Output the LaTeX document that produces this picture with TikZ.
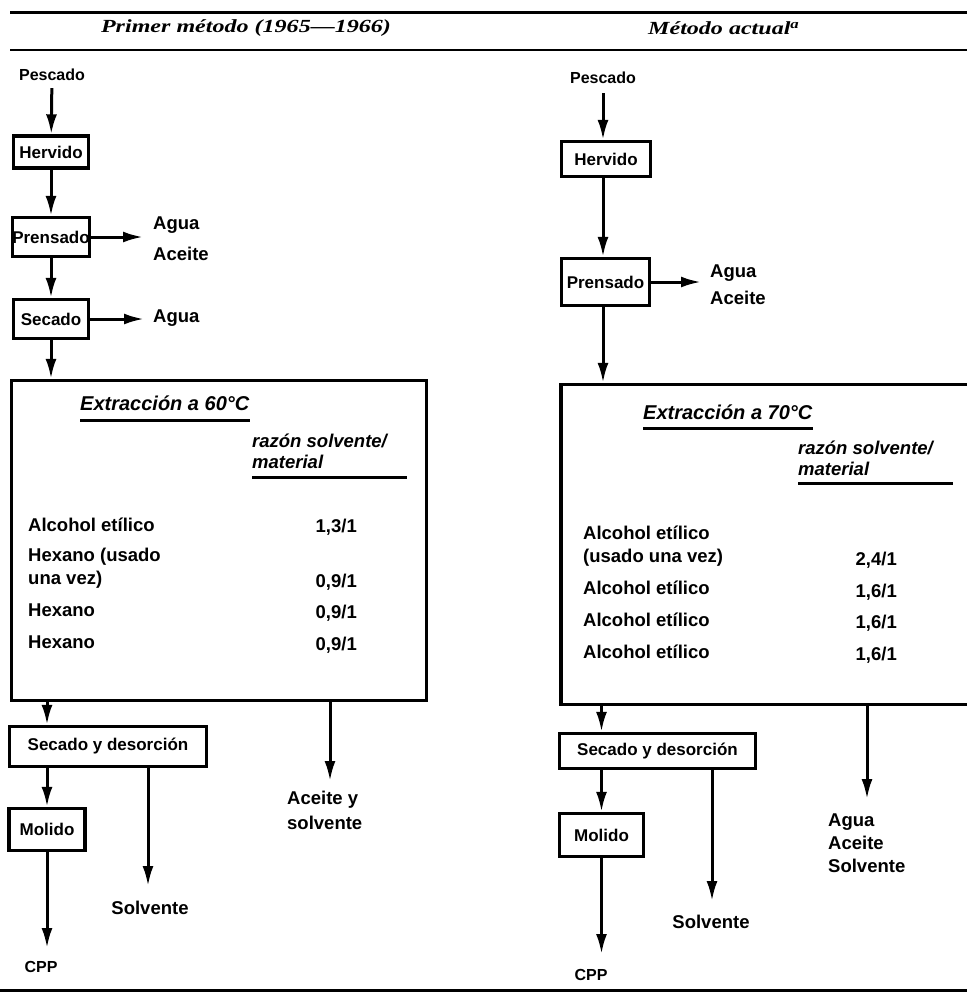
\documentclass[tikz,border=0pt]{standalone}
\usepackage{fontspec}
\setmainfont{Liberation Sans}
\newfontfamily\ttlfont[FakeStretch=1.3]{Liberation Serif}
\usetikzlibrary{arrows.meta}
\newcommand\boxsize{\fontsize{17}{21}\selectfont\bfseries}
\newcommand\lblsize{\fontsize{18.5}{23}\selectfont\bfseries}
\newcommand\smlsize{\fontsize{16}{20}\selectfont\bfseries}
\newcommand\subsize{\fontsize{20}{24}\selectfont\bfseries\itshape}
\newcommand\ratsize{\fontsize{18.5}{21}\selectfont\bfseries\itshape}

\begin{document}
\begin{tikzpicture}[x=1pt,y=-1pt,
  box/.style={draw, line width=3.4pt, inner sep=1pt, font=\boxsize},
  txt/.style={inner sep=0pt, font=\lblsize, align=left},
  flow/.style={line width=3pt, -{Latex[length=20pt,width=11pt]}},
  uline/.style={line width=3pt},
  ttl/.style={inner sep=0pt, font=\fontsize{18.5}{22}\selectfont\ttlfont\bfseries\itshape}]
\useasboundingbox (0,0) rectangle (967,997);
\clip (0,0) rectangle (967,997);
% table rules and heads
\draw[line width=3pt] (10,12) -- (967,12);
\draw[line width=2pt] (10,50) -- (967,50);
\draw[line width=3pt] (0,990) -- (967,990);
\node[ttl] (ttlA) at (246,28) {Primer método (1965—1966)};
\node[ttl, anchor=west] (ttlB) at (648,28) {Método actual\textsuperscript{a}};
% first method
\node[txt, font=\smlsize] (pesA) at (52,75) {Pescado};
\node[box, minimum width=75, minimum height=32] (herA) at (51,152) {Hervido};
\node[box, minimum width=75, minimum height=39, inner xsep=0pt] (preA) at (51,237) {Prensado};
\node[box, minimum width=75, minimum height=39] (secA) at (51,319) {Secado};
\node[txt, anchor=west] (outA1) at (153,238.5) {Agua\\[8pt]Aceite};
\node[txt, anchor=west] (outA2) at (153,318) {Agua};
\coordinate (tipA1) at (143,237);
\coordinate (tipA2) at (144,319);
\draw[flow, shorten <=7pt] (pesA) -- (herA);
\draw[flow] (herA) -- (preA);
\draw[flow] (preA) -- (secA);
\draw[flow] (preA) -- (tipA1);
\draw[flow] (secA) -- (tipA2);
\node[box, minimum width=415, minimum height=320] (extA) at (219,540.5) {};
\draw[flow] (secA) -- (secA |- extA.north);
\node[txt, anchor=west, font=\subsize] (subA) at (80,403) {Extracción a 60°C};
\draw[uline] ([yshift=-10pt]subA.south west) -- ([yshift=-10pt]subA.south east);
\node[txt, anchor=west, font=\ratsize] (ratA) at (252,451) {razón solvente/\\material};
\draw[uline] ([yshift=-9pt]ratA.south west) -- ++(155,0);
\node[txt, anchor=west] (rowA1) at (28,525) {Alcohol etílico};
\node[txt, anchor=west] (rowA2) at (28,568.5) {Hexano (usado\\una vez)};
\node[txt, anchor=west] (rowA3) at (28,610) {Hexano};
\node[txt, anchor=west] (rowA4) at (28,642) {Hexano};
\node[txt, anchor=east] (valA1) at (357,527) {1,3/1};
\node[txt, anchor=east] (valA2) at (357,582) {0,9/1};
\node[txt, anchor=east] (valA3) at (357,613) {0,9/1};
\node[txt, anchor=east] (valA4) at (357,645) {0,9/1};
\node[box, minimum width=197, minimum height=40] (sdA) at (108,746.5) {Secado y desorción};
\node[box, minimum width=76, minimum height=42] (molA) at (47,829.5) {Molido};
\node[txt, font=\smlsize] (cppA) at (41,967) {CPP};
\node[txt] (solA) at (150,908) {Solvente};
\node[txt, anchor=west] (oilA) at (287,810.5) {Aceite y\\[2pt]solvente};
\coordinate (tipA3) at (47,948);
\coordinate (tipA4) at (148,886);
\coordinate (tipA5) at (330,781);
\draw[flow] (extA.south -| molA) -- (sdA.north -| molA);
\draw[flow] (sdA.south -| molA) -- (molA);
\draw[flow] (molA) -- (tipA3);
\draw[flow] (sdA.south -| tipA4) -- (tipA4);
\draw[flow] (extA.south -| tipA5) -- (tipA5);
% present method
\node[txt, font=\smlsize] (pesB) at (603,78) {Pescado};
\node[box, minimum width=89, minimum height=35] (herB) at (606,159) {Hervido};
\node[box, minimum width=88, minimum height=47] (preB) at (605.5,282) {Prensado};
\node[txt, anchor=west] (outB1) at (710,284.5) {Agua\\[4pt]Aceite};
\coordinate (tipB1) at (701,282);
\draw[flow, shorten <=9pt] (pesB) -- (pesB |- herB.north);
\draw[flow] (herB.south -| pesB) -- (preB.north -| pesB);
\draw[flow] (preB) -- (tipB1);
\node[box, minimum width=410, minimum height=320] (extB) at (766,544.5) {};
\draw[flow] (preB.south -| pesB) -- (extB.north -| pesB);
\node[txt, anchor=west, font=\subsize] (subB) at (643,412) {Extracción a 70°C};
\draw[uline] ([yshift=-9pt]subB.south west) -- ([yshift=-9pt]subB.south east);
\node[txt, anchor=west, font=\ratsize] (ratB) at (798,458) {razón solvente/\\material};
\draw[uline] ([yshift=-8pt]ratB.south west) -- ++(155,0);
\node[txt, anchor=west] (rowB1) at (583,546) {Alcohol etílico\\(usado una vez)};
\node[txt, anchor=west] (rowB2) at (583,588) {Alcohol etílico};
\node[txt, anchor=west] (rowB3) at (583,620) {Alcohol etílico};
\node[txt, anchor=west] (rowB4) at (583,652) {Alcohol etílico};
\node[txt, anchor=east] (valB1) at (897,560) {2,4/1};
\node[txt, anchor=east] (valB2) at (897,592) {1,6/1};
\node[txt, anchor=east] (valB3) at (897,623) {1,6/1};
\node[txt, anchor=east] (valB4) at (897,655) {1,6/1};
\node[box, minimum width=196, minimum height=35] (sdB) at (657.5,751) {Secado y desorción};
\node[box, minimum width=84, minimum height=43] (molB) at (601.5,835) {Molido};
\node[txt, font=\smlsize] (cppB) at (591,975) {CPP};
\node[txt] (solB) at (711,922) {Solvente};
\node[txt, anchor=west] (outB3) at (828,843) {Agua\\Aceite\\Solvente};
\coordinate (tipB3) at (601.5,954);
\coordinate (tipB4) at (712,901);
\coordinate (tipB5) at (867,799);
\draw[flow] (extB.south -| molB) -- (sdB.north -| molB);
\draw[flow] (sdB.south -| molB) -- (molB);
\draw[flow] (molB) -- (tipB3);
\draw[flow] (sdB.south -| tipB4) -- (tipB4);
\draw[flow] (extB.south -| tipB5) -- (tipB5);
\end{tikzpicture}
\end{document}
